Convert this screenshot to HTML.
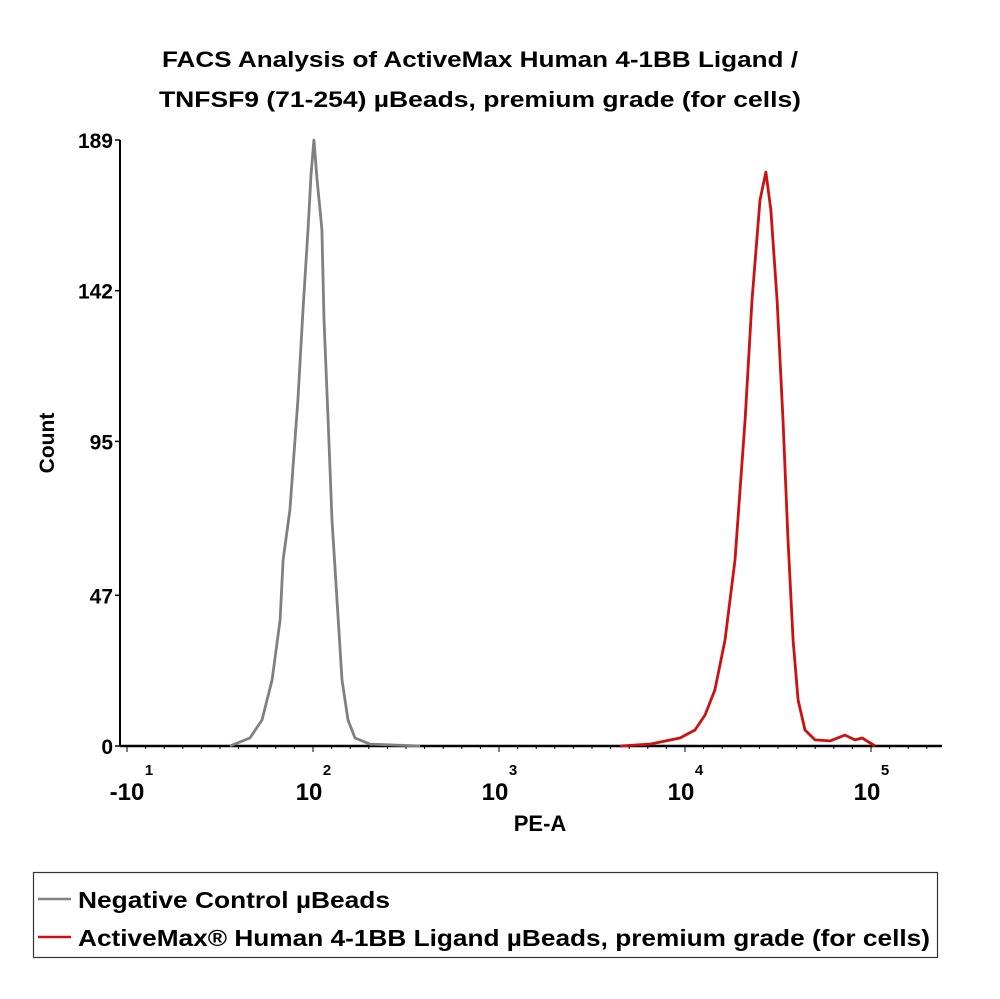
<!DOCTYPE html>
<html><head><meta charset="utf-8"><style>
body{margin:0;background:#fff;}
svg{display:block;font-family:"Liberation Sans",sans-serif;font-weight:bold;}
</style></head><body>
<svg id="chart" width="1000" height="999" viewBox="0 0 1000 999">
<text x="480" y="67" text-anchor="middle" font-size="22" textLength="636" lengthAdjust="spacingAndGlyphs">FACS Analysis of ActiveMax Human 4-1BB Ligand /</text>
<text x="480" y="107" text-anchor="middle" font-size="22" textLength="642" lengthAdjust="spacingAndGlyphs">TNFSF9 (71-254) µBeads, premium grade (for cells)</text>
<g id="axes"></g>
<g id="series"></g>
<text x="54" y="443" text-anchor="middle" font-size="21" transform="rotate(-90 54 443)">Count</text>
<text x="540" y="831" text-anchor="middle" font-size="22">PE-A</text>
<g>
<rect x="33.5" y="872.5" width="904" height="85" fill="none" stroke="#333" stroke-width="1.2"/>
<line x1="38" y1="899" x2="71" y2="899" stroke="#808080" stroke-width="2.5"/>
<text x="78" y="908" font-size="23" textLength="312" lengthAdjust="spacingAndGlyphs">Negative Control µBeads</text>
<line x1="38" y1="937" x2="71" y2="937" stroke="#cc1111" stroke-width="2.5"/>
<text x="78" y="946" font-size="23" textLength="852" lengthAdjust="spacingAndGlyphs">ActiveMax® Human 4-1BB Ligand µBeads, premium grade (for cells)</text>
</g>
</svg>
<script>
const yTicks=[0,47,95,142,189];
const xDecades=[1,2,3,4,5];
const xLabels=["-10","10","10","10","10"];
const grayX=[1.554,1.661,1.726,1.780,1.823,1.839,1.876,1.919,1.946,1.973,1.989,2.005,2.022,2.038,2.048,2.059,2.081,2.102,2.129,2.156,2.188,2.226,2.306,2.575];
const grayY=[0,2.5,8.1,20.6,39.3,58,73.6,107.9,136,161,178,189,176.5,167,161,133,101.7,70.5,45.5,20.6,8.1,2.5,0.6,0];
const redX=[3.651,3.812,3.973,4.054,4.108,4.161,4.215,4.269,4.323,4.360,4.403,4.435,4.462,4.495,4.527,4.554,4.581,4.608,4.645,4.699,4.780,4.860,4.914,4.952,5.022];
const redY=[0,0.6,2.5,5,9.7,17.5,33,58,101.7,139,170.3,179,167,139,101.7,64.3,33,14.3,5,1.9,1.6,3.4,1.9,2.5,0];
const NS="http://www.w3.org/2000/svg";
const X0=120,X1=942,Y0=746,Y1=140;
function sx(d){return 313+(d-2)*186;}
function sy(c){return Y0-(c/189)*(Y0-Y1);}
function mk(tag,at,parent){const e=document.createElementNS(NS,tag);for(const k in at)e.setAttribute(k,at[k]);parent.appendChild(e);return e;}
const axes=document.getElementById('axes');
let e=mk('line',{x1:X0,y1:Y1,x2:X0,y2:Y0,stroke:'#000','stroke-width':2},axes);


e=mk('line',{x1:X0,y1:Y0,x2:X1,y2:Y0,stroke:'#000','stroke-width':2.5},axes);


yTicks.forEach(v=>{
 const t=mk('line',{x1:X0-5,y1:sy(v),x2:X0,y2:sy(v),stroke:'#000','stroke-width':1.5},axes);
 
 
 const l=mk('text',{x:X0-7,y:sy(v)+8,'text-anchor':'end','font-size':21},axes);
 l.textContent=String(v);
 
 
});
for(let d=0.6;d<5.4;d+=0.1){
 const x=sx(d);if(x<X0+2||x>X1)continue;
 const major=Math.abs(d-Math.round(d))<0.01;
 const t=mk('line',{x1:x,y1:Y0,x2:x,y2:Y0+(major?6:3),stroke:'#000','stroke-width':1},axes);
 
 
}
xDecades.forEach((d,i)=>{
 const x=sx(d)-(i===0?0:4);
 const l=mk('text',{x:x,y:800,'text-anchor':'middle','font-size':24},axes);
 l.textContent=xLabels[i];
 
 
 const s=mk('text',{x:x+(i===0?22:18),y:775,'text-anchor':'middle','font-size':15},axes);
 s.textContent=String(d);
 
 
});
const ser=document.getElementById('series');
function path(xs,ys){return xs.map((x,i)=>(i?'L':'M')+sx(x).toFixed(1)+' '+sy(ys[i]).toFixed(1)).join(' ');}
e=mk('path',{d:path(grayX,grayY),fill:'none',stroke:'#808080','stroke-width':2.8,'stroke-linejoin':'round'},ser);


e=mk('path',{d:path(redX,redY),fill:'none',stroke:'#cc1111','stroke-width':2.8,'stroke-linejoin':'round'},ser);


</script>
</body></html>
